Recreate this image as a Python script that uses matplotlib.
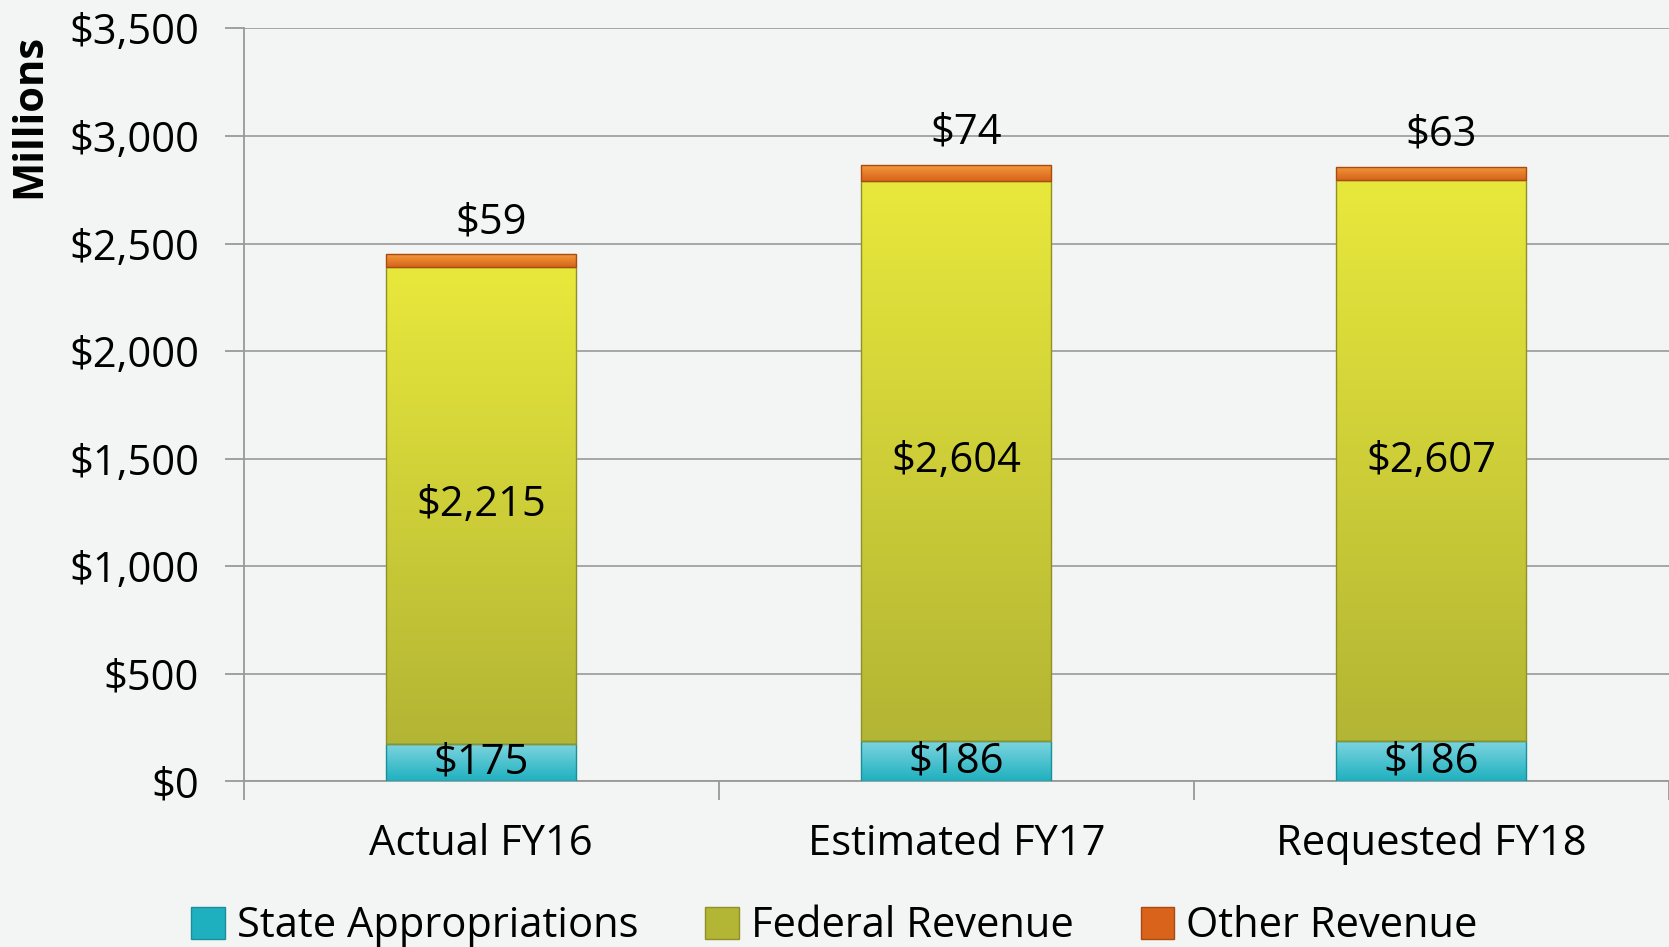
import numpy as np
import matplotlib.pyplot as plt
from matplotlib.patches import Patch
from matplotlib.ticker import FuncFormatter

plt.rcParams['font.family'] = ['Open Sans', 'DejaVu Sans']

categories = ["Actual FY16", "Estimated FY17", "Requested FY18"]
state = [175, 186, 186]
federal = [2215, 2604, 2607]
other = [59, 74, 63]
series_names = ["State Appropriations", "Federal Revenue", "Other Revenue"]

# (top colour, bottom colour, edge)
C_STATE = ("#7fd6e0", "#1fb0bf", "#1a8f9c")
C_FED = ("#e8e83c", "#b3b534", "#8f9128")
C_OTHER = ("#f29a3c", "#d9631a", "#a84a12")


def shade(ax, bars, top, bot):
    cmap = plt.matplotlib.colors.LinearSegmentedColormap.from_list("g", [bot, top])
    grad = np.linspace(0, 1, 256).reshape(-1, 1)
    for b in bars:
        x0, y0 = b.get_x(), b.get_y()
        w, h = b.get_width(), b.get_height()
        im = ax.imshow(grad, cmap=cmap, origin="lower", aspect="auto",
                       extent=(x0, x0 + w, y0, y0 + h), zorder=b.get_zorder())
        im.set_clip_path(b)


fig = plt.figure(figsize=(16.69, 9.47), dpi=100)
fig.patch.set_facecolor("#f3f4f4")
ax = fig.add_axes([0.146, 0.175, 0.854, 0.795])
ax.set_facecolor("none")

x = np.arange(len(categories))
w = 0.4
b1 = ax.bar(x, state, w, color=C_STATE[1], edgecolor=C_STATE[2], lw=1, zorder=3)
b2 = ax.bar(x, federal, w, bottom=state, color=C_FED[1], edgecolor=C_FED[2], lw=1, zorder=3)
tops = [s + f for s, f in zip(state, federal)]
b3 = ax.bar(x, other, w, bottom=tops, color=C_OTHER[1], edgecolor=C_OTHER[2], lw=1, zorder=3)
shade(ax, b1, C_STATE[0], C_STATE[1])
shade(ax, b2, C_FED[0], C_FED[1])
shade(ax, b3, C_OTHER[0], C_OTHER[1])
for bars in (b1, b2, b3):
    for b in bars:
        b.set_facecolor("none")
        b.set_zorder(4)

fs = 30
for i in x:
    ax.text(i, state[i] / 2, f"${state[i]:,}", ha="center", va="center", fontsize=fs, zorder=5)
    ax.text(i, state[i] + federal[i] / 2, f"${federal[i]:,}", ha="center", va="center",
            fontsize=fs, zorder=5)
    ax.text(i + 0.02, tops[i] + other[i] + 150, f"${other[i]:,}", ha="center", va="center",
            fontsize=fs, zorder=5)

ax.set_xlim(-0.5, 2.5)
ax.set_ylim(0, 3500)
ax.set_yticks(np.arange(0, 3501, 500))
ax.yaxis.set_major_formatter(FuncFormatter(lambda v, p: f"${v:,.0f}"))
ax.set_xticks(x)
ax.set_xticklabels(categories)
ax.set_xticks([-0.5, 0.5, 1.5, 2.5], minor=True)
ax.tick_params(axis="x", which="major", length=0, pad=30, labelsize=fs)
ax.tick_params(axis="x", which="minor", length=14, width=1.3, color="#999999", direction="out")
ax.tick_params(axis="y", length=14, width=1.3, color="#999999", labelsize=fs, pad=18)
ax.grid(axis="y", color="#a6a6a6", lw=1.4, zorder=0)
for s in ("top", "right"):
    ax.spines[s].set_visible(False)
for s in ("left", "bottom"):
    ax.spines[s].set_color("#999999")
    ax.spines[s].set_linewidth(1.3)

fig.text(0.018, 0.878, "Millions", rotation=90, ha="center", va="center",
         fontsize=fs, fontweight="bold")

handles = [Patch(facecolor=c[1], edgecolor=c[2]) for c in (C_STATE, C_FED, C_OTHER)]
fig.legend(handles, series_names, loc="center", bbox_to_anchor=(0.5, 0.022), ncol=3,
           frameon=False, fontsize=fs, handlelength=0.8, handleheight=0.8,
           handletextpad=0.3, columnspacing=1.6)

fig.savefig("out.png", dpi=100, facecolor=fig.get_facecolor())
